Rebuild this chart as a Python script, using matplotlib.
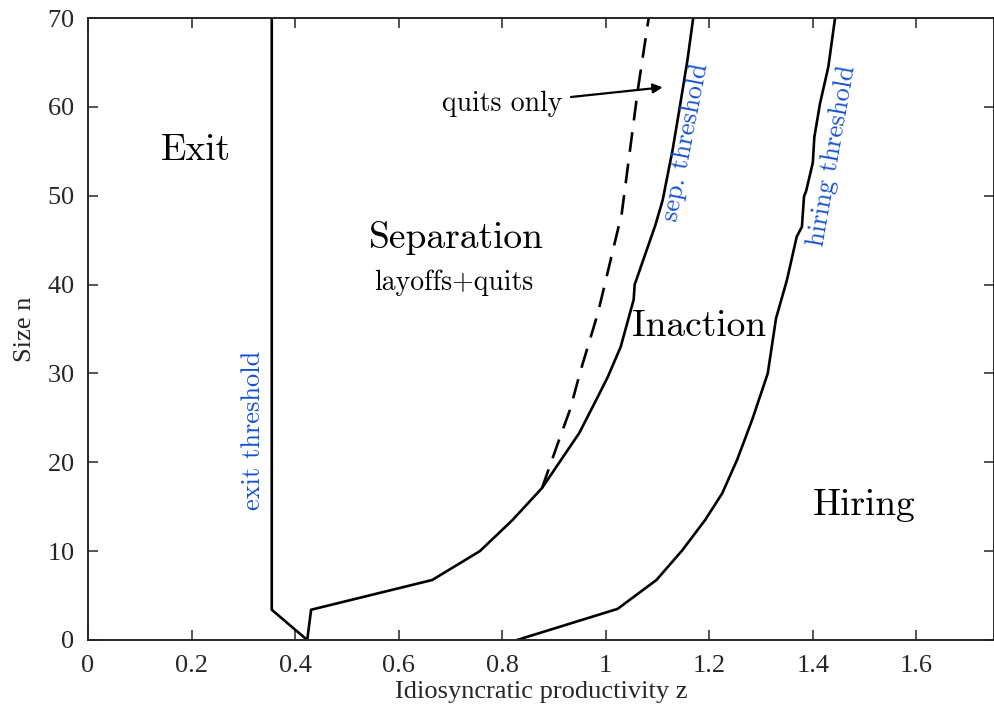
import matplotlib
matplotlib.use('Agg')
import matplotlib.pyplot as plt

plt.rcParams['font.family'] = ['cmr10', 'DejaVu Serif']
plt.rcParams['axes.formatter.use_mathtext'] = True
plt.rcParams['mathtext.fontset'] = 'cm'

# Exit threshold
exit_z = [0.355, 0.355, 0.4235]
exit_n = [70, 3.4, 0]

# Separation threshold
sep_z = [0.4235, 0.431, 0.665, 0.757, 0.82, 0.877, 0.949, 0.985, 1.004, 1.029, 1.054,
         1.056, 1.096, 1.11, 1.129, 1.142, 1.158, 1.169]
sep_n = [0, 3.4, 6.75, 10.0, 13.5, 17.1, 23.3, 27.4, 29.6, 33.0, 38.3,
         40.0, 46.7, 49.5, 55.1, 59.6, 65.3, 70]

# Quits only (dashed)
quit_z = [0.877, 0.908, 0.931, 0.952, 0.985, 1.031, 1.062, 1.083]
quit_n = [17.1, 22.2, 25.9, 30.4, 36.8, 48.0, 61.9, 70]

# Hiring threshold
hire_z = [0.829, 1.023, 1.098, 1.148, 1.192, 1.225, 1.254, 1.283, 1.313, 1.329, 1.35,
          1.369, 1.379, 1.383, 1.387, 1.4, 1.403, 1.414, 1.43, 1.443]
hire_n = [0, 3.5, 6.75, 10.1, 13.5, 16.5, 20.3, 24.8, 30.0, 36.2, 40.5,
          45.4, 46.5, 49.9, 50.5, 53.7, 56.6, 60.4, 64.5, 70]

xtick_vals = [0, 0.2, 0.4, 0.6, 0.8, 1, 1.2, 1.4, 1.6]
xtick_labels = ['0', '0.2', '0.4', '0.6', '0.8', '1', '1.2', '1.4', '1.6']
ytick_vals = [0, 10, 20, 30, 40, 50, 60, 70]

blue = '#1550d2'
axcol = '#262626'
times = 'Liberation Serif'

fig = plt.figure(figsize=(9.95, 7.21), dpi=100)
ax = fig.add_axes([0.0884, 0.1124, 0.9106, 0.8626])

ax.plot(exit_z, exit_n, color='k', lw=1.9)
ax.plot(sep_z, sep_n, color='k', lw=1.9)
ax.plot(quit_z, quit_n, color='k', lw=1.9, linestyle=(0, (7.5, 4.5)))
ax.plot(hire_z, hire_n, color='k', lw=1.9)

ax.set_xlim(0, 1.75)
ax.set_ylim(0, 70)
ax.set_xticks(xtick_vals)
ax.set_xticklabels(xtick_labels)
ax.set_yticks(ytick_vals)
ax.tick_params(direction='in', top=True, right=True, length=7, width=1.1,
               labelsize=19, colors=axcol)
ax.tick_params(axis='x', pad=11)
ax.tick_params(axis='y', pad=10)
for lab in ax.get_xticklabels() + ax.get_yticklabels():
    lab.set_family(times)
for s in ax.spines.values():
    s.set_color(axcol)
    s.set_linewidth(1.4)

ax.set_xlabel('Idiosyncratic productivity z', fontsize=19, color=axcol,
              labelpad=3, family=times)
ax.set_ylabel('Size n', fontsize=19, color=axcol, labelpad=8, family=times)

ax.text(0.208, 55.1, 'Exit', fontsize=27, ha='center', va='center')
ax.text(0.712, 45.2, 'Separation', fontsize=27, ha='center', va='center')
ax.text(0.706, 40.2, 'layoffs+quits', fontsize=20, ha='center', va='center')
ax.text(1.181, 35.3, 'Inaction', fontsize=27, ha='center', va='center')
ax.text(1.5, 15.2, 'Hiring', fontsize=27, ha='center', va='center')

ax.text(0.319, 23.6, 'exit threshold', fontsize=19, color=blue, rotation=90,
        ha='center', va='center')
ax.text(1.155, 56.0, 'sep. threshold', fontsize=19, color=blue, rotation=79,
        ha='center', va='center')
ax.text(1.437, 54.5, 'hiring threshold', fontsize=19, color=blue, rotation=80,
        ha='center', va='center')

ax.annotate('quits only', xy=(1.11, 62.2), xytext=(0.917, 60.3), fontsize=20,
            ha='right', va='center',
            arrowprops=dict(arrowstyle='-|>', color='k', lw=1.6, mutation_scale=14,
                            shrinkA=4, shrinkB=0))

fig.savefig('out.png', dpi=100)
